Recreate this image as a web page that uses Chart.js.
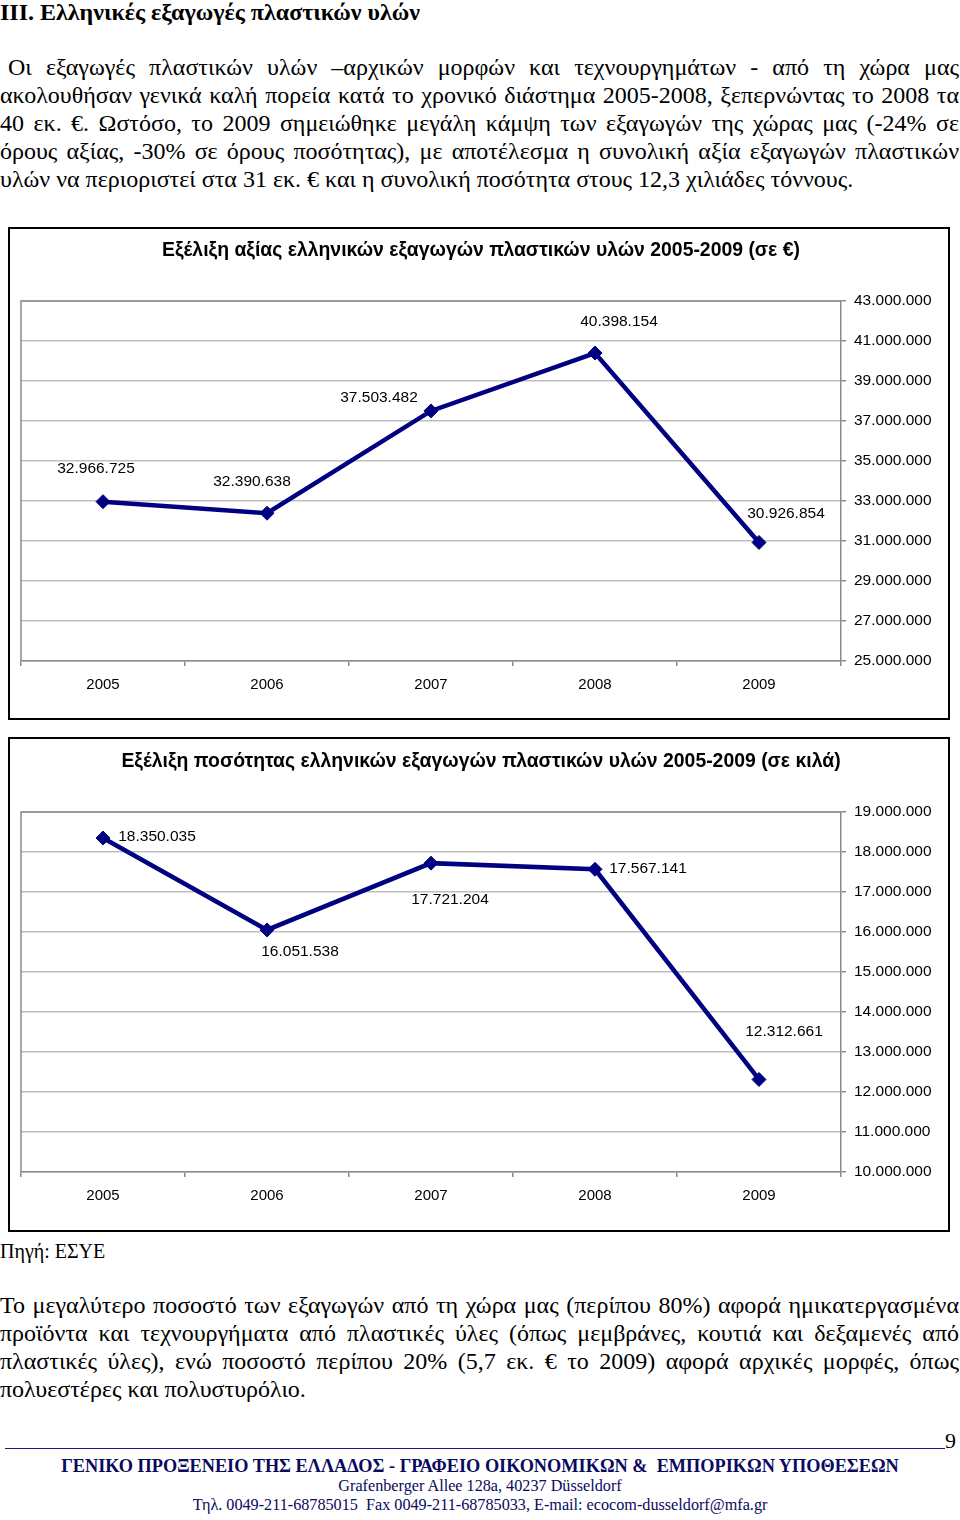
<!DOCTYPE html>
<html>
<head>
<meta charset="utf-8">
<script src="https://cdn.jsdelivr.net/npm/chart.js@4.4.1/dist/chart.umd.min.js"></script>
<style>
  html, body { margin: 0; padding: 0; background: #fff; }
  body { width: 960px; height: 1520px; position: relative; overflow: hidden; font-family: "Liberation Serif", "Times New Roman", serif; color: #000; }
  .abs { position: absolute; }
  .h { left: 0; top: -1px; font-weight: bold; font-size: 24px; line-height: 26px; white-space: nowrap; }
  .para { left: 0; width: 959px; font-size: 24px; line-height: 28px; }
  .para div { text-align: justify; text-align-last: justify; white-space: nowrap; }
  .para div.last { text-align-last: left; }
  .box { left: 8px; width: 938px; border: 2px solid #000; background: #fff; }
  .box canvas { display: block; }
  .src { left: 0; top: 1238px; font-size: 20px; line-height: 26px; }
  .rule { left: 5px; top: 1448px; width: 940px; height: 0; border-top: 1.5px solid #1a1a8c; }
  .pg { left: 945px; top: 1428px; font-size: 22px; line-height: 26px; }
  .foot { left: 0; width: 960px; text-align: center; color: #0a0a5e; white-space: nowrap; }
</style>
</head>
<body>

<div class="abs h">III. Ελληνικές εξαγωγές πλαστικών υλών</div>

<div class="abs para" style="top:53px">
  <div style="margin-left:8px">Οι εξαγωγές πλαστικών υλών –αρχικών μορφών και τεχνουργημάτων - από τη χώρα μας</div>
  <div>ακολουθήσαν γενικά καλή πορεία κατά το χρονικό διάστημα 2005-2008, ξεπερνώντας το 2008 τα</div>
  <div>40 εκ. €. Ωστόσο, το 2009 σημειώθηκε μεγάλη κάμψη των εξαγωγών της χώρας μας (-24% σε</div>
  <div>όρους αξίας, -30% σε όρους ποσότητας), με αποτέλεσμα η συνολική αξία εξαγωγών πλαστικών</div>
  <div class="last">υλών να περιοριστεί στα 31 εκ. € και η συνολική ποσότητα στους 12,3 χιλιάδες τόννους.</div>
</div>

<div class="abs box" style="top:227px; height:489px;"><canvas id="c1" width="938" height="489"></canvas></div>
<div class="abs box" style="top:737px; height:491px;"><canvas id="c2" width="938" height="491"></canvas></div>

<div class="abs src">Πηγή: ΕΣΥΕ</div>

<div class="abs para" style="top:1291px">
  <div>Το μεγαλύτερο ποσοστό των εξαγωγών από τη χώρα μας (περίπου 80%) αφορά ημικατεργασμένα</div>
  <div>προϊόντα και τεχνουργήματα από πλαστικές ύλες (όπως μεμβράνες, κουτιά και δεξαμενές από</div>
  <div>πλαστικές ύλες), ενώ ποσοστό περίπου 20% (5,7 εκ. € το 2009) αφορά αρχικές μορφές, όπως</div>
  <div class="last">πολυεστέρες και πολυστυρόλιο.</div>
</div>

<div class="abs pg">9</div>
<div class="abs rule"></div>
<div class="abs foot" style="top:1455px; font-size:18.3px; line-height:22px; font-weight:bold;">ΓΕΝΙΚΟ ΠΡΟΞΕΝΕΙΟ ΤΗΣ ΕΛΛΑΔΟΣ - ΓΡΑΦΕΙΟ ΟΙΚΟΝΟΜΙΚΩΝ &amp;&nbsp; ΕΜΠΟΡΙΚΩΝ ΥΠΟΘΕΣΕΩΝ</div>
<div class="abs foot" style="top:1477px; font-size:16.2px; line-height:18px;">Grafenberger Allee 128a, 40237 Düsseldorf</div>
<div class="abs foot" style="top:1496px; font-size:16.2px; line-height:18px;">Τηλ. 0049-211-68785015&nbsp; Fax 0049-211-68785033, E-mail: ecocom-dusseldorf@mfa.gr</div>

<script>
// ---- data ----
const years = ['2005', '2006', '2007', '2008', '2009'];
const exportValueEuro = [32966725, 32390638, 37503482, 40398154, 30926854];
const exportQuantityKg = [18350035, 16051538, 17721204, 17567141, 12312661];
const valueAxisTicks = [25000000, 27000000, 29000000, 31000000, 33000000, 35000000, 37000000, 39000000, 41000000, 43000000];
const quantityAxisTicks = [10000000, 11000000, 12000000, 13000000, 14000000, 15000000, 16000000, 17000000, 18000000, 19000000];
const title1 = 'Εξέλιξη αξίας ελληνικών εξαγωγών πλαστικών υλών 2005-2009 (σε €)';
const title2 = 'Εξέλιξη ποσότητας ελληνικών εξαγωγών πλαστικών υλών 2005-2009 (σε κιλά)';

// ---- helpers ----
const fmt = v => String(Math.round(v)).replace(/\B(?=(\d{3})+(?!\d))/g, '.');
const SANS = '"Liberation Sans", Arial, sans-serif';
const NAVY = '#000080';

const pointLabels = {
  id: 'pointLabels',
  afterDatasetsDraw(chart, args, opts) {
    const ctx = chart.ctx;
    const meta = chart.getDatasetMeta(0);
    ctx.save();
    ctx.font = '15.5px ' + SANS;
    ctx.fillStyle = '#000';
    ctx.textAlign = 'center';
    ctx.textBaseline = 'middle';
    meta.data.forEach((pt, i) => {
      const v = chart.data.datasets[0].data[i];
      const off = opts.offsets[i];
      ctx.fillText(fmt(v), pt.x + off[0], pt.y + off[1]);
    });
    ctx.restore();
  }
};

const plotFrame = {
  id: 'plotFrame',
  beforeDatasetsDraw(chart) {
    const a = chart.chartArea, ctx = chart.ctx;
    ctx.save();
    ctx.strokeStyle = '#8a8a8a';
    ctx.lineWidth = 1.5;
    ctx.beginPath();
    ctx.moveTo(a.left, a.bottom);
    ctx.lineTo(a.left, a.top);
    ctx.lineTo(a.right, a.top);
    ctx.stroke();
    ctx.restore();
  }
};

function makeChart(id, labels, data, tickVals, title, titlePad, offsets, xH) {
  const ticksMin = tickVals[0], ticksMax = tickVals[tickVals.length - 1];
  const step = tickVals[1] - tickVals[0];
  return new Chart(document.getElementById(id), {
    type: 'line',
    data: {
      labels: labels,
      datasets: [{
        data: data,
        borderColor: NAVY,
        backgroundColor: NAVY,
        borderWidth: 4.5,
        pointStyle: 'rectRot',
        pointRadius: 7,
        pointBackgroundColor: NAVY,
        pointBorderColor: NAVY,
        pointBorderWidth: 1,
        tension: 0,
        clip: false
      }]
    },
    options: {
      responsive: false,
      animation: false,
      devicePixelRatio: 1,
      layout: { padding: { left: 11, right: 7, top: 0, bottom: 0 } },
      plugins: {
        legend: { display: false },
        tooltip: { enabled: false },
        title: {
          display: true,
          text: title,
          color: '#000',
          font: { family: SANS, size: 19.4, weight: 'bold', lineHeight: 1.2 },
          padding: titlePad
        },
        pointLabels: { offsets: offsets }
      },
      scales: {
        x: {
          offset: true,
          grid: { drawOnChartArea: false, offset: true, tickLength: 5, color: '#8a8a8a', lineWidth: 1.5 },
          border: { color: '#8a8a8a', width: 1.5 },
          ticks: { color: '#000', font: { family: SANS, size: 15 }, padding: 10 },
          afterFit: s => { s.height = xH; }
        },
        y: {
          position: 'right',
          min: ticksMin,
          max: ticksMax,
          afterBuildTicks: s => { s.ticks = tickVals.map(v => ({ value: v })); },
          ticks: { stepSize: step, color: '#000', font: { family: SANS, size: 15.5 }, padding: 8, crossAlign: 'near', callback: v => fmt(v) },
          grid: { color: '#bfbfbf', lineWidth: 1.5, tickLength: 5, tickColor: '#8a8a8a' },
          border: { color: '#8a8a8a', width: 1.5 },
          afterFit: s => { s.width = 100; }
        }
      }
    },
    plugins: [plotFrame, pointLabels]
  });
}

// title block height = 19.4*1.2 = 23.28; centre at ~22 px from canvas top, plot top at 72
makeChart('c1', years, exportValueEuro, valueAxisTicks, title1,
  { top: 10.4, bottom: 38.3 },
  [[-7, -33], [-15, -31], [-52, -13], [24, -31], [27, -29]], 57);

makeChart('c2', years, exportQuantityKg, quantityAxisTicks, title2,
  { top: 11.4, bottom: 38.3 },
  [[54, -1], [33, 22], [19, 37], [53, -1], [25, -48]], 58);
</script>
</body>
</html>
